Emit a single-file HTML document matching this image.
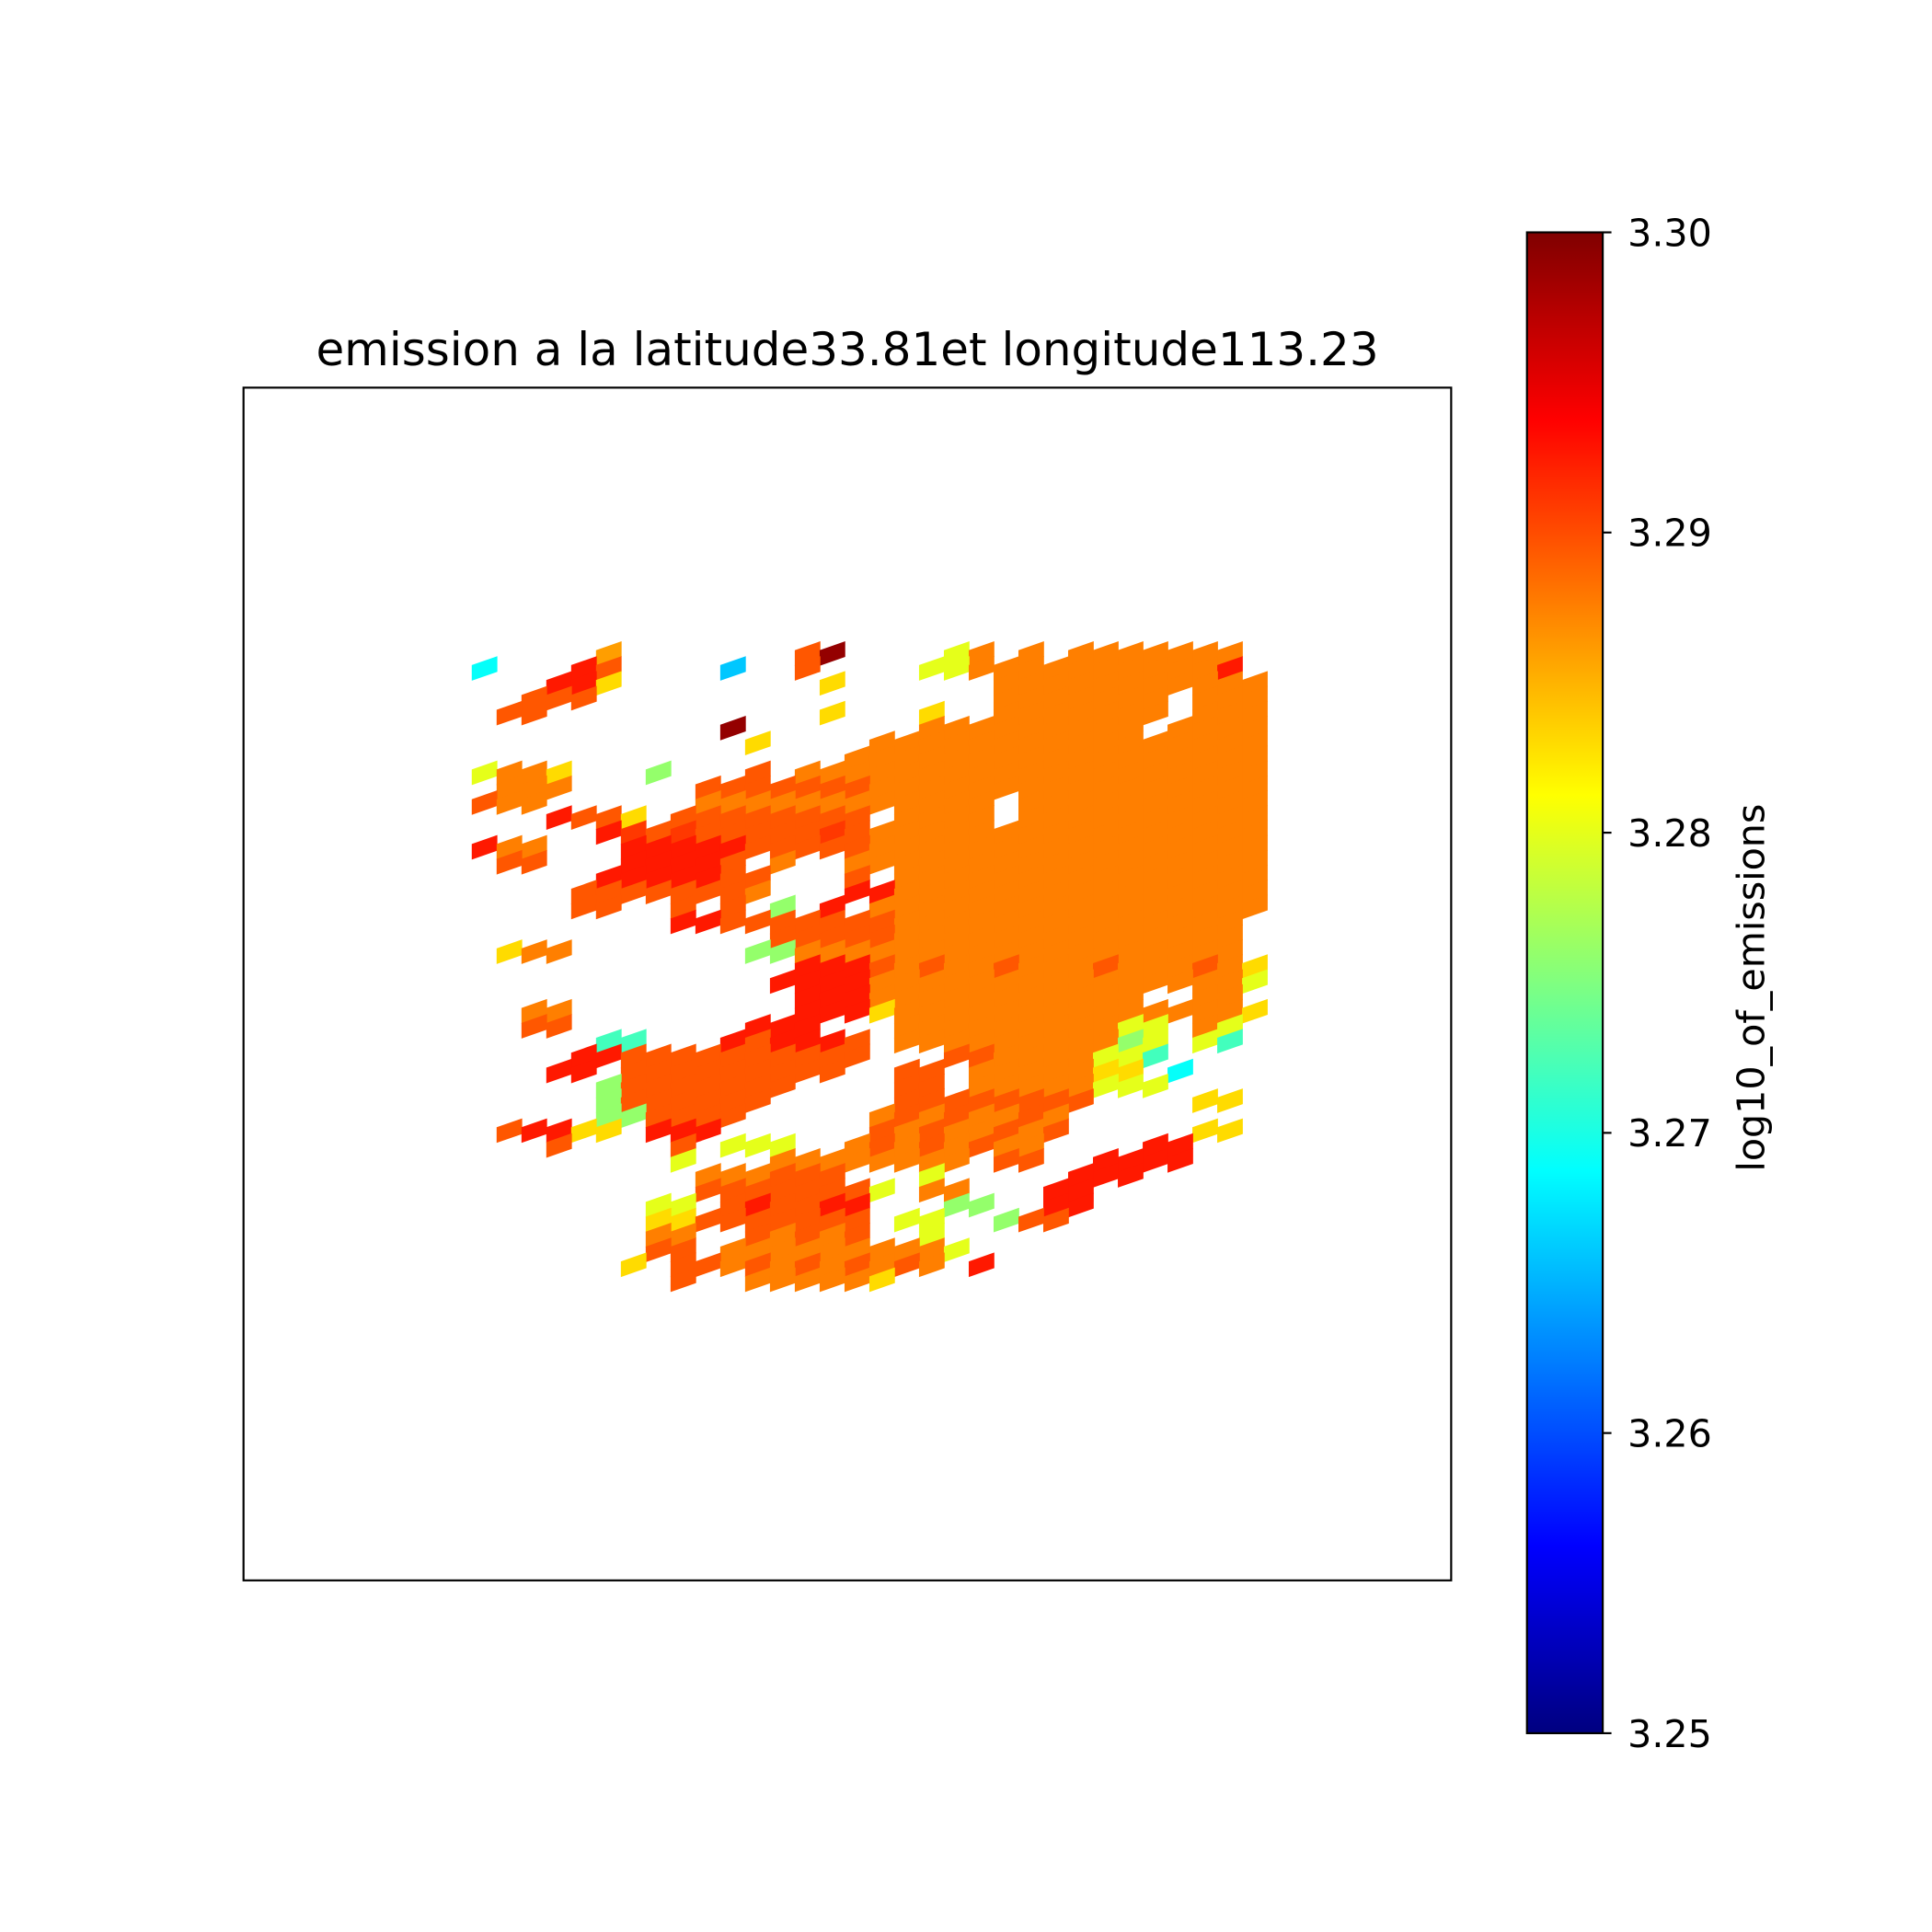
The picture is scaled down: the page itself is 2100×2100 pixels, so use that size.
<!DOCTYPE html>
<html><head><meta charset="utf-8"><style>
html,body{margin:0;padding:0;background:#fff;}
svg{display:block;}
text{font-family:"DejaVu Sans","Liberation Sans",sans-serif;fill:#000;}
</style></head><body>
<svg id="fig" width="2100" height="2100" viewBox="0 0 1555 1555" xmlns="http://www.w3.org/2000/svg">
<defs>
<linearGradient id="jetgrad" x1="0" y1="1" x2="0" y2="0"></linearGradient>
</defs>
<text x="682" y="294" font-size="37" text-anchor="middle">emission a la latitude33.81et longitude113.23</text>
<g id="cells"></g>
<rect x="196" y="312" width="972" height="960" fill="none" stroke="#000" stroke-width="1.6"/>
<rect x="1229" y="187" width="61" height="1208" fill="url(#jetgrad)" stroke="#000" stroke-width="1.6"/>
<g id="cbticks"></g>
<text transform="translate(1420,795) rotate(-90)" font-size="30.5" text-anchor="middle">log10_of_emissions</text>
</svg>
<script>
const vmin = 3.25, vmax = 3.30;
const tickValues = [3.25, 3.26, 3.27, 3.28, 3.29, 3.30];
const tickLabels = ["3.25", "3.26", "3.27", "3.28", "3.29", "3.30"];
const levelCodes = ["d", "r", "R", "o", "a", "A", "y", "l", "g", "t", "c", "b"];
const levelValues = [3.299, 3.2925, 3.291, 3.2895, 3.2875, 3.286, 3.283, 3.280, 3.276, 3.272, 3.269, 3.266];
const gridRows = [
".....A.......od....la.a.aaaaaaa.",
"c...ro....b..o....llaaaaaaaaaar.",
"...rry........y......aaaaaaaaaaa",
"..ooo................aaaaaaa.aaa",
".oo...........y...y..aaaaaaa.aaa",
"..........d.......aaaaaaaaa.aaaa",
"...........y....aaaaaaaaaaaaaaaa",
"...............aaaaaaaaaaaaaaaaa",
"laay...g...o.aaaaaaaaaaaaaaaaaaa",
".aaa.....oooooooaaaaaaaaaaaaaaaa",
"oaa......aaaaaaaaaaaa.aaaaaaaaaa",
"...rooy.oooooooo.aaaa.aaaaaaaaaa",
".....rRoRoooooRoaaaaaaaaaaaaaaaa",
"raa...rrrrroooooaaaaaaaaaaaaaaaa",
".oo...rrrro.a..aaaaaaaaaaaaaaaaa",
".....rrrrroo...o.aaaaaaaaaaaaaaa",
"....oooooooa...rraaaaaaaaaaaaaaa",
"....oo..o.o.g.r.aaaaaaaaaaaaaaaa",
"........rroooooooaaaaaaaaaaaaaa.",
"............oooooaaaaaaaaaaaaaa.",
".yaa.......ggaaaaaaaaaaaaaaaaaa.",
".............rrroaoaaoaaaoaaaoay",
"............rrrraaaaaaaaaaaaaaal",
".............rrraaaaaaaaaaa..aa.",
"..aa.........rrryaaaaaaaaaaaaaay",
"..oo.......rrr...aaaaaaaaall.al.",
".....tt...rorrro.aaaaaaaaagl.lt.",
"....rroooooooooo...ooaaaallt....",
"...rr.ooooooooo..oo.aaaaayy.c...",
".....gooooooo....oo.aaaaalll....",
".....goooooo.....oooooooo....yy.",
".....ggoooo.....aoaoaaoa........",
".orryy.rrr......oaoaaoao.....yy.",
"...o....o.lll..aoaoaoaa....rr...",
"........l...aaaaaaaa.oo..rrrr...",
".........aaaooo...l.....rrr.....",
".........oooooool.aa...rr.......",
".......ll.oroorr...gg..rr.......",
".......yyooooooo.ll..goo........",
".......aa..oaoao..l.............",
".......oo.aaaaaaaaal............",
"......y.ooaoaoaoaoa.r...........",
"........o..aaaaay..............."
];
// axis functions (display units)
function xOf(i){ return 390 + 20*i; }
function yOf(j){ return 526 + 12*j; }
function cbY(v){ return 1395 - (v - vmin)/(vmax - vmin)*1208; }
function clip(x){ return Math.max(0, Math.min(1, x)); }
function jet(t){
  const r = clip(1.5 - Math.abs(4*t - 3)), g = clip(1.5 - Math.abs(4*t - 2)), b = clip(1.5 - Math.abs(4*t - 1));
  return 'rgb(' + Math.round(r*255) + ',' + Math.round(g*255) + ',' + Math.round(b*255) + ')';
}
function colorOf(v){ return jet((v - vmin)/(vmax - vmin)); }
const NS = 'http://www.w3.org/2000/svg';
const grad = document.getElementById('jetgrad');
for (let k = 0; k <= 40; k++) {
  const s = document.createElementNS(NS, 'stop');
  s.setAttribute('offset', (k/40).toString());
  s.setAttribute('stop-color', jet(k/40));
  grad.appendChild(s);
}
const cells = document.getElementById('cells');
const hw = 10.3, hh = 6.3, sh = 3.6;
gridRows.forEach(function(row, j){
  for (let i = 0; i < row.length; i++) {
    const idx = levelCodes.indexOf(row[i]);
    if (idx < 0) continue;
    const v = levelValues[idx];
    const cx = xOf(i), cy = yOf(j);
    const p = document.createElementNS(NS, 'polygon');
    p.setAttribute('points', [
      (cx-hw)+','+(cy-hh+sh), (cx+hw)+','+(cy-hh-sh), (cx+hw)+','+(cy+hh-sh), (cx-hw)+','+(cy+hh+sh)
    ].join(' '));
    p.setAttribute('fill', colorOf(v));
    
    
    cells.appendChild(p);
  }
});
const cbt = document.getElementById('cbticks');
tickValues.forEach(function(v, k){
  const y = cbY(v);
  const l = document.createElementNS(NS, 'line');
  l.setAttribute('x1', 1290); l.setAttribute('x2', 1297);
  l.setAttribute('y1', y); l.setAttribute('y2', y);
  l.setAttribute('stroke', '#000'); l.setAttribute('stroke-width', '1.6');
  
  
  cbt.appendChild(l);
  const t = document.createElementNS(NS, 'text');
  t.setAttribute('x', 1310); t.setAttribute('y', y + 11);
  t.setAttribute('font-size', '30.5');
  t.textContent = tickLabels[k];
  
  
  cbt.appendChild(t);
});
</script>
</body></html>
